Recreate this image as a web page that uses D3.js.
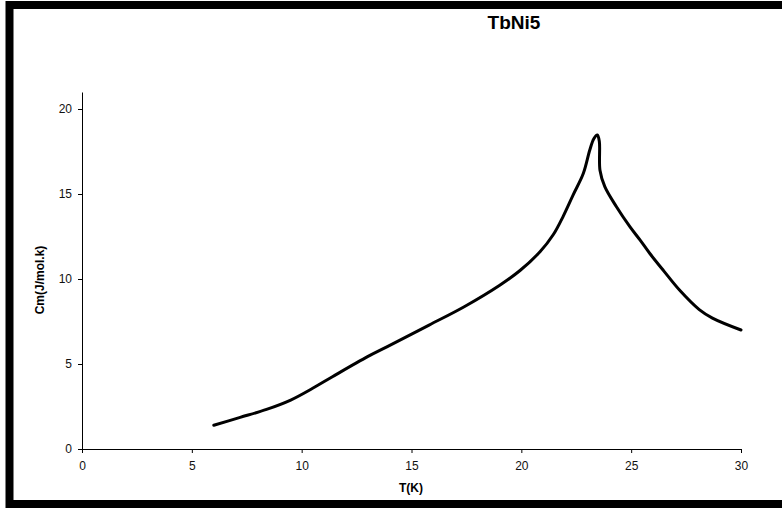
<!DOCTYPE html>
<html lang="en">
<head>
    <meta charset="utf-8">
    <title>TbNi5</title>
    <script src="https://d3js.org/d3.v7.min.js"></script>
    <style>
        body { margin: 0; background: #fff; }
        text { font-family: "Liberation Sans", Arial, sans-serif; }
    </style>
</head>
<body>
    <svg width="782" height="508"></svg>

    <script>
        // Data
        var temps = [6.0, 7.2, 8.4, 9.5, 10.5, 11.4, 13.0, 13.9, 15.8, 17.4, 19.0, 19.94, 20.85, 21.45, 21.91, 22.36, 22.82, 23.12, 23.3, 23.46, 23.55, 23.58, 23.8, 24.33, 24.94, 25.4, 25.85, 26.5, 27.2, 28.1, 28.7, 30.0];
        var cm    = [1.4, 1.86, 2.33, 2.88, 3.57, 4.25, 5.43, 6.02, 7.29, 8.37, 9.62, 10.5, 11.6, 12.6, 13.7, 14.95, 16.2, 17.6, 18.25, 18.47, 18.1, 16.4, 15.43, 14.25, 13.08, 12.3, 11.5, 10.45, 9.35, 8.2, 7.7, 7.0];
        var xTicks = [0, 5, 10, 15, 20, 25, 30];
        var yTicks = [0, 5, 10, 15, 20];

        var svg = d3.select("svg");

        // outer frame
        svg.append("rect")
            .attr("x", 9.5).attr("y", 5)
            .attr("width", 800).attr("height", 499)
            .attr("fill", "none")
            .attr("stroke", "#000")
            .attr("stroke-width", 8);

        var x = d3.scaleLinear().domain([0, 30]).range([82, 741]);
        var y = d3.scaleLinear().domain([0, 21]).range([449, 92]);

        var gx = svg.append("g")
            .attr("transform", "translate(0,449)")
            .call(d3.axisBottom(x).tickValues(xTicks).tickSize(4).tickPadding(8).tickSizeOuter(0));
        var gy = svg.append("g")
            .attr("transform", "translate(82,0)")
            .call(d3.axisLeft(y).tickValues(yTicks).tickSize(4).tickPadding(6).tickSizeOuter(0));

        [gx, gy].forEach(function(g) {
            g.select(".domain").attr("stroke", "#000").attr("stroke-width", 1);
            g.selectAll(".tick line").attr("stroke", "#000");
            g.selectAll("text")
                .style("font-family", "'Liberation Sans', Arial, sans-serif")
                .style("font-size", "12px")
                .attr("fill", "#111");
        });

        var pts = temps.map(function(t, i) { return [t, cm[i]]; });

        var line = d3.line()
            .x(function(d) { return x(d[0]); })
            .y(function(d) { return y(d[1]); })
            .curve(d3.curveCatmullRom.alpha(0.5));

        svg.append("path")
            .datum(pts)
            .attr("d", line)
            .attr("fill", "none")
            .attr("stroke", "#000")
            .attr("stroke-width", 3)
            .attr("stroke-linecap", "round")
            .attr("stroke-linejoin", "round");

        // titles
        svg.append("text")
            .attr("x", 514).attr("y", 29)
            .attr("text-anchor", "middle")
            .style("font-weight", "bold")
            .style("font-size", "19px")
            .text("TbNi5");

        svg.append("text")
            .attr("x", 411).attr("y", 492)
            .attr("text-anchor", "middle")
            .style("font-weight", "bold")
            .style("font-size", "12px")
            .text("T(K)");

        svg.append("text")
            .attr("transform", "translate(44,280) rotate(-90)")
            .attr("text-anchor", "middle")
            .style("font-weight", "bold")
            .style("font-size", "12px")
            .text("Cm(J/mol.k)");
    </script>
</body>
</html>
